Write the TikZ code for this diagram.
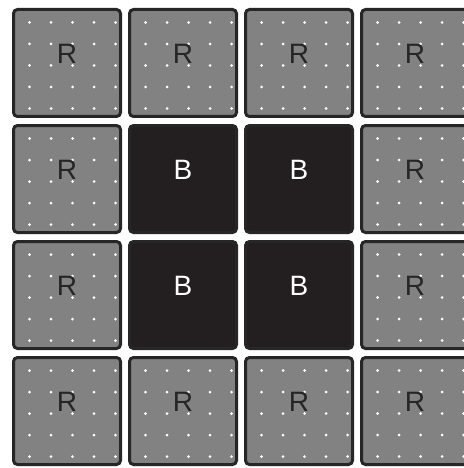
\documentclass[tikz,border=0pt]{standalone}
\usepackage{fontspec}
\setmainfont{Liberation Sans}
\usetikzlibrary{positioning,calc}
\definecolor{tilegrey}{HTML}{828282}
\definecolor{tiledark}{HTML}{231F20}
\definecolor{tileedge}{HTML}{262626}
\tikzset{
  tile/.style={draw=tileedge, line width=3pt, rounded corners=4pt,
               minimum width=107pt, minimum height=107pt, inner sep=0pt, outer sep=0pt,
               font=\fontsize{28}{28}\selectfont, text height=20pt, text depth=19pt},
  rtile/.style={tile, fill=tilegrey, text=black!85,
                path picture={\foreach \dx in {16,37.5,59,80.5,102}
                  \foreach \dy in {13,34.5,56,77.5,99}
                    \fill[white] ($(path picture bounding box.north west)+(\dx*1pt,-\dy*1pt)$) circle (1.5pt);}},
  btile/.style={tile, fill=tiledark, text=white},
}

\begin{document}
\begin{tikzpicture}[node distance=9pt]
\useasboundingbox (0,0) rectangle (463pt,-468pt);
% top row
\node[rtile] (t11) at (67pt,-63pt) {R};
\node[rtile, right=of t11] (t12) {R};
\node[rtile, right=of t12] (t13) {R};
\node[rtile, right=of t13] (t14) {R};
% second row
\node[rtile, below=of t11] (t21) {R};
\node[btile, right=of t21] (t22) {B};
\node[btile, right=of t22] (t23) {B};
\node[rtile, right=of t23] (t24) {R};
% third row
\node[rtile, below=of t21] (t31) {R};
\node[btile, right=of t31] (t32) {B};
\node[btile, right=of t32] (t33) {B};
\node[rtile, right=of t33] (t34) {R};
% bottom row
\node[rtile, below=of t31] (t41) {R};
\node[rtile, right=of t41] (t42) {R};
\node[rtile, right=of t42] (t43) {R};
\node[rtile, right=of t43] (t44) {R};
\end{tikzpicture}
\end{document}
